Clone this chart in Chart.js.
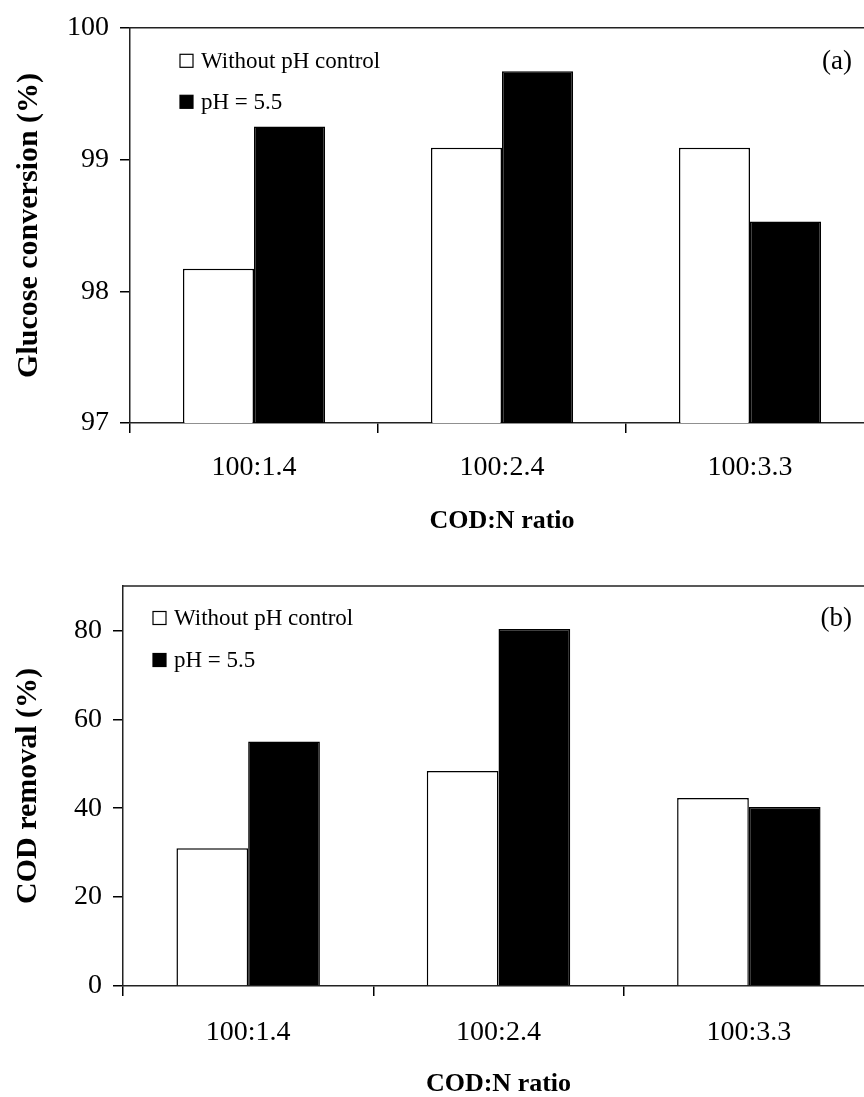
<!DOCTYPE html>
<html>
<head>
<meta charset="utf-8">
<title>Glucose conversion and COD removal</title>
<script src="https://cdn.jsdelivr.net/npm/chart.js@4.4.1/dist/chart.umd.min.js"></script>
<style>
  html, body { margin: 0; padding: 0; background: #fff; }
  body { width: 864px; height: 1097px; overflow: hidden; position: relative; }
  canvas { position: absolute; left: 0; }
  #glucoseChart { top: 0; }
  #codChart { top: 550px; }
</style>
</head>
<body>
<canvas id="glucoseChart" width="880" height="550"></canvas>
<canvas id="codChart" width="880" height="547"></canvas>
<script>
// COD:N ratios on the x axis
const categories = ["100:1.4", "100:2.4", "100:3.3"];
const seriesLabels = ["Without pH control", "pH = 5.5"];

// (a) glucose conversion, %
const glucoseNoControl = [98.17, 99.09, 99.09];
const glucosePh55 = [99.25, 99.67, 98.53];

// (b) COD removal, %
const codNoControl = [31.0, 48.4, 42.3];
const codPh55 = [55.0, 80.3, 40.3];

const serif = '"Liberation Serif", "Times New Roman", serif';

window.onload = function() {
  Chart.defaults.font.family = serif;
  Chart.defaults.color = "#000";

  createBarChart("glucoseChart", {
    series: [glucoseNoControl, glucosePh55],
    yTitle: "Glucose conversion (%)",
    yMin: 97, yMax: 100, yStep: 1,
    axisLeft: 130, padTop: 23, xHeight: 127,
    tickPad: 18, yTitlePad: 11, xTitlePad: 16,
    legendLeft: 50, legendTop: 33, legendGap: 41,
    panel: "(a)", panelTop: 34
  });

  createBarChart("codChart", {
    series: [codNoControl, codPh55],
    yTitle: "COD removal (%)",
    yMin: 0, yMax: 90, yStep: 20,
    axisLeft: 123, padTop: 36, xHeight: 111,
    tickPad: 20, yTitlePad: 10, xTitlePad: 0,
    legendLeft: 30, legendTop: 32, legendGap: 42,
    panel: "(b)", panelTop: 33
  });

  // top frame line, legend inside the plot and the panel letter
  function framePlugin(opts) {
    return {
      id: "frame",
      afterDatasetsDraw(chart) {
        const { ctx, chartArea } = chart;
        ctx.save();
        ctx.strokeStyle = "#222";
        ctx.lineWidth = 1.5;
        ctx.beginPath();
        ctx.moveTo(chartArea.left, chartArea.top);
        ctx.lineTo(chartArea.right, chartArea.top);
        ctx.stroke();

        ctx.font = "23px " + serif;
        ctx.textBaseline = "middle";
        chart.data.datasets.forEach((ds, i) => {
          const x = chartArea.left + opts.legendLeft;
          const y = chartArea.top + opts.legendTop + i * opts.legendGap;
          ctx.fillStyle = ds.backgroundColor;
          ctx.fillRect(x, y - 6.5, 13, 13);
          ctx.strokeStyle = "#000";
          ctx.lineWidth = 1.2;
          ctx.strokeRect(x, y - 6.5, 13, 13);
          ctx.fillStyle = "#000";
          ctx.fillText(ds.label, x + 21, y + 1);
        });

        ctx.font = "27px " + serif;
        ctx.textAlign = "right";
        ctx.fillText(opts.panel, chartArea.right - 22, chartArea.top + opts.panelTop);
        ctx.restore();
      }
    };
  }

  function createBarChart(selector, opts) {
    const ctx = document.getElementById(selector).getContext("2d");

    const chart = new Chart(ctx, {
      type: "bar",
      data: {
        labels: categories,
        datasets: [
          {
            label: seriesLabels[0],
            data: opts.series[0],
            backgroundColor: "#ffffff",
            borderColor: "#000000",
            borderWidth: 1.5
          },
          {
            label: seriesLabels[1],
            data: opts.series[1],
            backgroundColor: "#000000",
            borderColor: "#000000",
            borderWidth: 1.5
          }
        ]
      },
      options: {
        responsive: false,
        animation: false,
        devicePixelRatio: 1,
        categoryPercentage: 0.573,
        barPercentage: 1.0,
        layout: { padding: { top: opts.padTop, right: 6, bottom: 0, left: 0 } },
        plugins: {
          legend: { display: false },
          tooltip: { enabled: false }
        },
        scales: {
          x: {
            type: "category",
            offset: true,
            grid: {
              display: true,
              offset: true,
              drawOnChartArea: false,
              drawTicks: true,
              tickLength: 10,
              color: "#000",
              lineWidth: 1.5
            },
            border: { display: true, color: "#222", width: 1.5 },
            ticks: { font: { size: 28 }, padding: opts.tickPad, maxRotation: 0 },
            title: {
              display: true,
              text: "COD:N ratio",
              font: { size: 26, weight: "bold", lineHeight: 1 },
              padding: { top: 0, bottom: opts.xTitlePad }
            },
            afterFit: s => { s.height = opts.xHeight; }
          },
          y: {
            min: opts.yMin,
            max: opts.yMax,
            grid: {
              display: true,
              drawOnChartArea: false,
              drawTicks: true,
              tickLength: 10,
              color: "#000",
              lineWidth: 1.5
            },
            border: { display: true, color: "#222", width: 1.5 },
            ticks: { stepSize: opts.yStep, includeBounds: false, font: { size: 28 }, padding: 11 },
            title: {
              display: true,
              text: opts.yTitle,
              font: { size: 30, weight: "bold" },
              padding: { top: opts.yTitlePad, bottom: 0 }
            },
            afterFit: s => { s.width = opts.axisLeft; }
          }
        }
      },
      plugins: [framePlugin(opts)]
    });

    return chart;
  }
};
</script>
</body>
</html>
